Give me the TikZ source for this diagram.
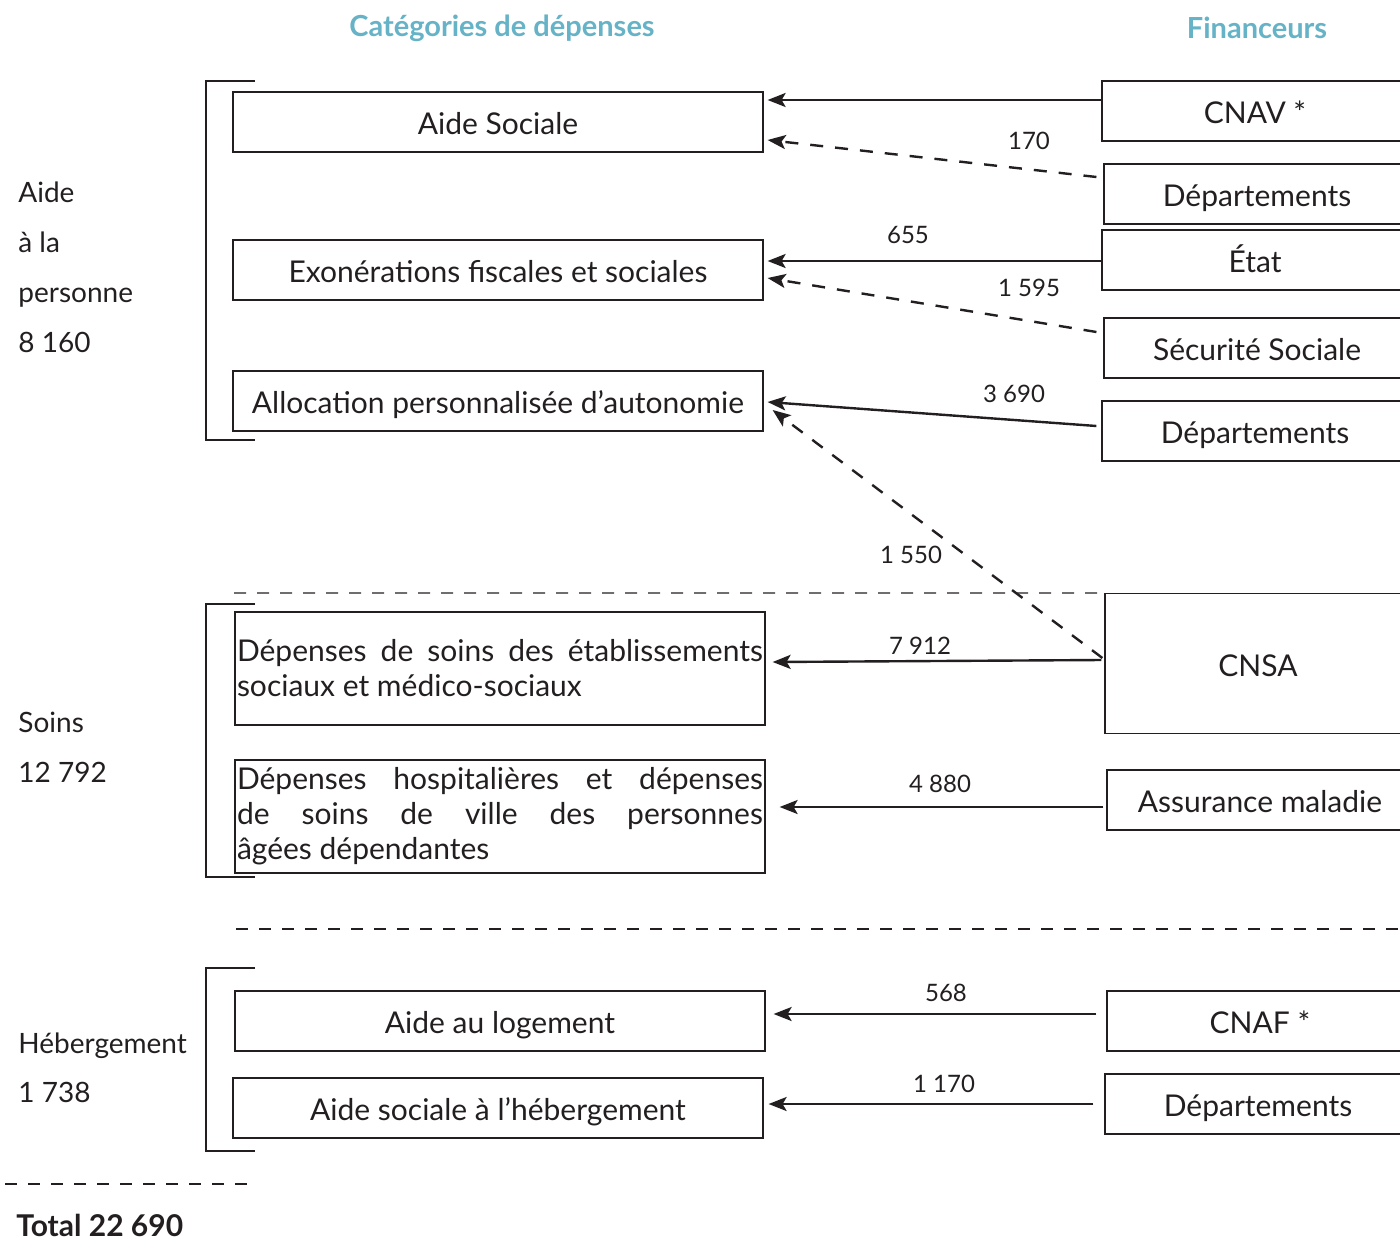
\documentclass[tikz,border=0pt]{standalone}
\usepackage{fontspec}
\setmainfont{Lato}
\usetikzlibrary{arrows.meta,calc}

\definecolor{titleblue}{RGB}{102,178,198}
\definecolor{ink}{RGB}{35,31,32}

\tikzset{
  catbox/.style={draw=ink, line width=0.6pt, minimum width=265pt, minimum height=30pt,
    inner sep=0pt, text=ink, font=\fontsize{15}{17.5}\selectfont, text height=12.8pt, text depth=0pt},
  longbox/.style={draw=ink, line width=0.6pt, text width=263pt, align=justify,
    minimum height=56.5pt, inner xsep=1pt, inner ysep=0pt, text=ink, font=\fontsize{15}{17.5}\selectfont},
  finbox/.style={draw=ink, line width=0.6pt, minimum width=153pt, minimum height=30pt,
    inner sep=0pt, text=ink, font=\fontsize{15}{17.5}\selectfont, text height=12.8pt, text depth=0pt},
  flow/.style={draw=ink, line width=1.2pt, -{Stealth[length=9pt,width=7pt,inset=2pt]}},
  flowdash/.style={flow, dash pattern=on 6.5pt off 6pt},
  sep/.style={draw=ink, line width=0.6pt, dash pattern=on 6pt off 5.5pt},
  num/.style={text=ink, inner sep=0pt, font=\fontsize{12}{14}\selectfont},
  grp/.style={text=ink, inner sep=0pt, anchor=base west, font=\fontsize{14}{17}\selectfont},
  head/.style={text=titleblue, inner sep=0pt, font=\bfseries\fontsize{14.5}{17}\selectfont},
}

\begin{document}
\begin{tikzpicture}[x=0.5pt, y=-0.5pt]
  \useasboundingbox (0,0) rectangle (1400,1241);

  % column titles
  \node[head] (cattitle) at (502,28) {Catégories de dépenses};
  \node[head] (fintitle) at (1257,28) {Financeurs};

  % groups on the left
  \foreach \txt [count=\i] in {Aide, à la, personne, 8 160}
    \node[grp] (aide\i) at (18,{152+50*\i}) {\txt};
  \node[grp] (soins1) at (18,732) {Soins};
  \node[grp] (soins2) at (18,782) {12 792};
  \node[grp] (heb1) at (18,1053) {Hébergement};
  \node[grp] (heb2) at (18,1102) {1 738};
  \foreach \t/\b in {81/440, 604/877, 968/1151}
    \draw[ink, line width=0.6pt] (255,\t) -| (206,\b) -- (255,\b);

  % categories
  \node[catbox] (aidesoc) at (498,122) {Aide Sociale};
  \node[catbox] (exo) at (498,270) {Exonérations fiscales et sociales};
  \node[catbox] (apa) at (498,401) {Allocation personnalisée d’autonomie};
  \node[longbox] (soinsetab) at (500,668.5)
    {Dépenses de soins des établissements\linebreak sociaux et médico-sociaux};
  \node[longbox] (hosp) at (500,816.5)
    {Dépenses hospitalières et dépenses\linebreak de soins de ville des personnes\linebreak âgées dépendantes};
  \node[catbox] (logement) at (500,1021) {Aide au logement};
  \node[catbox] (ash) at (498,1108) {Aide sociale à l’hébergement};

  % financeurs
  \node[finbox] (cnav) at (1255,111) {CNAV *};
  \node[finbox] (dep1) at (1257,194) {Départements};
  \node[finbox] (etat) at (1255,260) {État};
  \node[finbox] (secu) at (1257,348) {Sécurité Sociale};
  \node[finbox] (dep2) at (1255,431) {Départements};
  \node[finbox, minimum height=70pt] (cnsa) at (1258,663.5) {CNSA};
  \node[finbox] (am) at (1260,800) {Assurance maladie};
  \node[finbox] (cnaf) at (1260,1021) {CNAF *};
  \node[finbox] (dep3) at (1258,1104) {Départements};

  % separators
  \draw[sep] (234,593) -- (cnsa.north west);
  \draw[sep] (236,929) -- (1400,929);
  \draw[sep] (5,1184) -- (247,1184);

  % flows
  \draw[flow] ($(cnav.west)+(0,-11)$) -- ($(aidesoc.east)+(4,-22)$);
  \draw[flowdash] ($(dep1.west)+(-7,-17)$) -- ($(aidesoc.east)+(4,18)$);
  \draw[flow] ($(etat.west)+(0,1)$) -- ($(exo.east)+(4,-9)$);
  \draw[flowdash] ($(secu.west)+(-7,-16)$) -- ($(exo.east)+(4,8)$);
  \draw[flow] ($(dep2.west)+(-5,-5)$) -- ($(apa.east)+(4,1)$);
  \draw[flowdash] ($(cnsa.west)+(-2,-5.5)$) -- ($(apa.east)+(9,9)$);
  \draw[flow] ($(cnsa.west)+(-3,-3.5)$) -- ($(soinsetab.east)+(7,-6.5)$);
  \draw[flow] ($(am.west)+(-3,7)$) -- ($(hosp.east)+(14,-9.5)$);
  \draw[flow] ($(cnaf.west)+(-10,-7)$) -- ($(logement.east)+(8,-7)$);
  \draw[flow] ($(dep3.west)+(-11,0)$) -- ($(ash.east)+(5,-4)$);

  % amounts
  \node[num] (n170) at (1029,141) {170};
  \node[num] (n655) at (908,235) {655};
  \node[num] (n1595) at (1029,288) {1 595};
  \node[num] (n3690) at (1014,394) {3 690};
  \node[num] (n1550) at (911,555) {1 550};
  \node[num] (n7912) at (920,646) {7 912};
  \node[num] (n4880) at (940,784) {4 880};
  \node[num] (n568) at (946,993) {568};
  \node[num] (n1170) at (944,1084) {1 170};

  \node[grp, font=\bfseries\fontsize{15}{17}\selectfont] (total) at (16,1236) {Total 22 690};
\end{tikzpicture}
\end{document}
